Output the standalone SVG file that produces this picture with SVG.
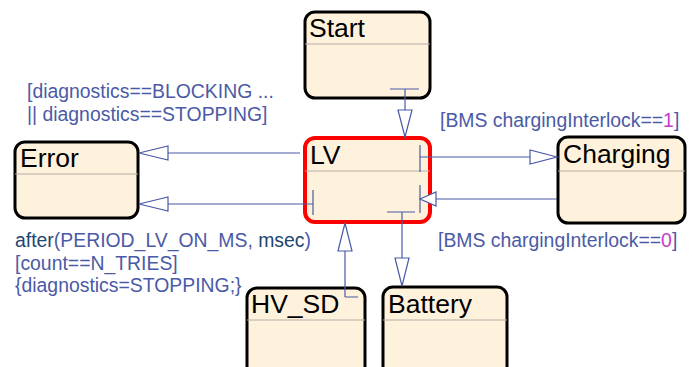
<svg xmlns="http://www.w3.org/2000/svg" width="700" height="367" viewBox="0 0 700 367">
<style>
.box{fill:#fff2dc;stroke:#000;stroke-width:3}
.act{fill:#fff2dc;stroke:#f00;stroke-width:4}
.div{stroke:#b4aca4;stroke-width:1}
.title{font-family:"Liberation Sans",Arial,sans-serif;font-size:26.5px;fill:#000}
.lbl{font-family:"Liberation Sans",Arial,sans-serif;font-size:19.4px;fill:#4b5aa6}
.dk{fill:#23456f}
.mg{fill:#c83cc8}
.ln{stroke:#4b5aa6;stroke-width:1.2;fill:none}
.ah{stroke:#4b5aa6;stroke-width:1.2;fill:#fff}
</style>
<rect width="700" height="367" fill="#fff"/>
<g id="Start"><rect class="box" x="305" y="12" width="125" height="86" rx="10"/><line class="div" x1="305" y1="44" x2="430" y2="44"/><text class="title" x="309" y="37">Start</text></g>
<g id="LV"><rect class="act" x="305" y="138" width="125" height="84" rx="10"/><line class="div" x1="305" y1="171" x2="430" y2="171"/><text class="title" x="310" y="164">LV</text></g>
<g id="Error"><rect class="box" x="15" y="142" width="123" height="76" rx="10"/><line class="div" x1="15" y1="174" x2="138" y2="174"/><text class="title" x="20" y="167">Error</text></g>
<g id="Charging"><rect class="box" x="558" y="137" width="127" height="86" rx="10"/><line class="div" x1="558" y1="171" x2="685" y2="171"/><text class="title" x="563" y="163">Charging</text></g>
<g id="HV_SD"><rect class="box" x="247" y="288" width="118" height="90" rx="10"/><line class="div" x1="247" y1="320" x2="365" y2="320"/><text class="title" x="251" y="313">HV_SD</text></g>
<g id="Battery"><rect class="box" x="383" y="287" width="124" height="90" rx="10"/><line class="div" x1="383" y1="320" x2="507" y2="320"/><text class="title" x="388" y="313">Battery</text></g>
<g id="connectors">
<path class="ln" d="M390 89H419M405 89V137"/><polygon class="ah" points="398,110 412,110 405,137"/>
<path class="ln" d="M300 153H139"/><polygon class="ah" points="139,153 168,146 168,160"/>
<path class="ln" d="M313 190V215M313 204H139"/><polygon class="ah" points="139,204 168,197 168,211"/>
<path class="ln" d="M420 145V172M420 157H557"/><polygon class="ah" points="557,157 530,150 530,164"/>
<path class="ln" d="M420 185V213M557 199H436"/><polygon class="ah" points="420,199 436,192 436,206"/>
<path class="ln" d="M387 212H415M402 212V286"/><polygon class="ah" points="395,258 409,258 402,286"/>
<path class="ln" d="M345 297H358M345 297V223"/><polygon class="ah" points="345,223 338,251 352,251"/>
</g>
<g id="labels">
<text class="lbl" x="27" y="98">[diagnostics==BLOCKING ...</text>
<text class="lbl" x="27" y="121">|| diagnostics==STOPPING]</text>
<text class="lbl" x="440" y="127">[BMS chargingInterlock==<tspan class="mg">1</tspan>]</text>
<text class="lbl" x="438" y="247">[BMS chargingInterlock==<tspan class="mg">0</tspan>]</text>
<text class="lbl" x="15" y="247"><tspan class="dk">after</tspan>(PERIOD_LV_ON_MS, <tspan class="dk">msec</tspan>)</text>
<text class="lbl" x="15" y="270">[count==N_TRIES]</text>
<text class="lbl" x="15" y="292">{diagnostics=STOPPING;}</text>
</g>
</svg>
